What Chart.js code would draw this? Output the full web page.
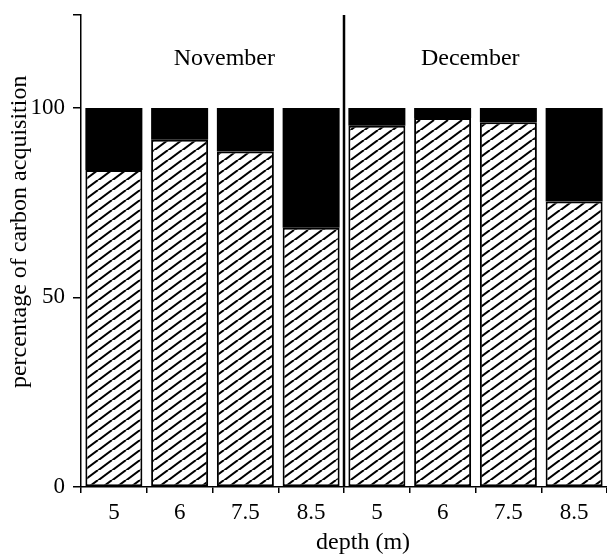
<!DOCTYPE html>
<html><head><meta charset="utf-8">
<script src="https://cdn.jsdelivr.net/npm/chart.js@4/dist/chart.umd.min.js"></script>
<style>html,body{margin:0;padding:0;background:#fff}#wrap{width:607px;height:558px;position:relative}</style>
</head><body><div id="wrap"><canvas id="c"></canvas></div>
<script>
const categories = ['5', '6', '7.5', '8.5', '5', '6', '7.5', '8.5'];
const months = ['November', 'December'];
const hatchedPct = [83.6, 91.6, 88.5, 68.4, 95.3, 97.3, 96.2, 75.3];
const solidPct = [16.4, 8.4, 11.5, 31.6, 4.7, 2.7, 3.8, 24.7];
const yTickValues = [0, 50, 100];
const yAxisMax = 124.5;
const xTitle = 'depth (m)';
const yTitle = 'percentage of carbon acquisition';

const FONT = '"Liberation Serif", "Times New Roman", serif';

function makeHatch() {
  const w = 14, h = 10.5;
  const c = document.createElement('canvas');
  c.width = w; c.height = h;
  const g = c.getContext('2d');
  g.fillStyle = '#fff'; g.fillRect(0, 0, w, h);
  g.strokeStyle = '#000'; g.lineWidth = 2;
  for (let k = -1; k <= 1; k++) {
    g.beginPath(); g.moveTo(k * w, h); g.lineTo(k * w + w, 0); g.stroke();
  }
  return g.createPattern(c, 'repeat');
}

const annot = {
  id: 'annot',
  afterDraw(chart) {
    const { ctx, scales: { x, y }, chartArea } = chart;
    ctx.save();
    const xd = (x.getPixelForValue(3) + x.getPixelForValue(4)) / 2;
    ctx.strokeStyle = '#000'; ctx.lineWidth = 2.5;
    ctx.beginPath(); ctx.moveTo(xd, chartArea.top); ctx.lineTo(xd, chartArea.bottom); ctx.stroke();
    ctx.fillStyle = '#000';
    ctx.font = '24px ' + FONT;
    ctx.textAlign = 'center'; ctx.textBaseline = 'middle';
    ctx.fillText(months[0], x.getPixelForValue(1.68), y.getPixelForValue(112.9));
    ctx.fillText(months[1], x.getPixelForValue(5.42), y.getPixelForValue(112.9));
    ctx.fillText(xTitle, x.getPixelForValue(3.79), chartArea.bottom + 56);
    ctx.translate(20, y.getPixelForValue(67.3));
    ctx.rotate(-Math.PI / 2);
    ctx.fillText(yTitle, 0, 0);
    ctx.restore();
  }
};

Chart.defaults.font.family = FONT;
Chart.defaults.font.size = 23;
Chart.defaults.color = '#000';

new Chart(document.getElementById('c'), {
  type: 'bar',
  data: {
    labels: categories,
    datasets: [
      { data: hatchedPct, backgroundColor: makeHatch(), borderColor: '#000', borderWidth: 2, borderSkipped: false },
      { data: solidPct, backgroundColor: '#000', borderWidth: 0 }
    ]
  },
  options: {
    responsive: true, maintainAspectRatio: false, animation: false, devicePixelRatio: 1,
    layout: { padding: { top: 15, left: 0, right: 0, bottom: 0 } },
    datasets: { bar: { barPercentage: 0.867, categoryPercentage: 1.0 } },
    plugins: { legend: { display: false }, tooltip: { enabled: false } },
    scales: {
      x: {
        stacked: true,
        offset: true,
        grid: { offset: true, drawOnChartArea: false, drawTicks: true, tickLength: 6, color: '#000', lineWidth: 1.5 },
        border: { display: true, color: '#000', width: 1.5 },
        ticks: { padding: 6, maxRotation: 0, autoSkip: false },
        afterFit(s) { s.height = 71; }
      },
      y: {
        stacked: true,
        min: 0, max: yAxisMax,
        afterBuildTicks(s) { s.ticks = yTickValues.concat([yAxisMax]).map(v => ({ value: v })); },
        grid: { drawOnChartArea: false, drawTicks: true, tickLength: 8, color: '#000', lineWidth: 1.5 },
        border: { display: true, color: '#000', width: 1.5 },
        ticks: { padding: 8, font: { lineHeight: 0.5 }, callback: v => (yTickValues.includes(v) ? String(v) : '') },
        afterFit(s) { s.width = 81; }
      }
    }
  },
  plugins: [annot]
});
</script>
</body></html>
